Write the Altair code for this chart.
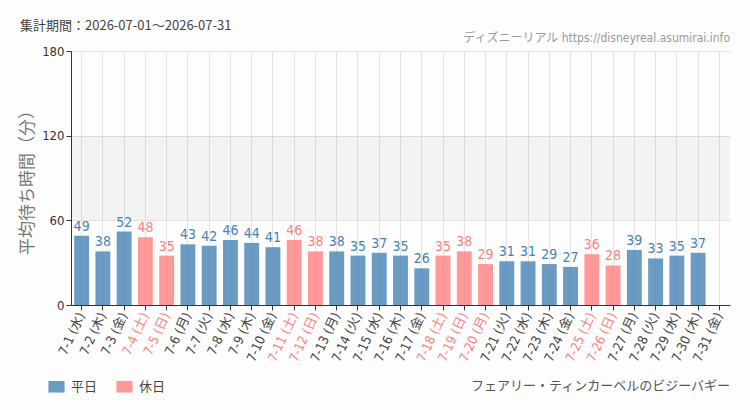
import altair as alt
import pandas as pd
import json

days = [f"7-{d}" for d in range(1, 32)]
weekdays = ["水","木","金","土","日","月","火","水","木","金","土","日","月","火","水","木","金","土","日","月","火","水","木","金","土","日","月","火","水","木","金"]
values = [49,38,52,48,35,43,42,46,44,41,46,38,38,35,37,35,26,35,38,29,31,31,29,27,36,28,39,33,35,37,None]
holiday = [0,0,0,1,1,0,0,0,0,0,1,1,0,0,0,0,0,1,1,1,0,0,0,0,1,1,0,0,0,0,0]

labels = [f"{d} ({w})" for d, w in zip(days, weekdays)]
kind = ["休日" if h else "平日" for h in holiday]
df = pd.DataFrame({"label": labels, "value": values, "kind": kind})
hol_labels = [l for l, h in zip(labels, holiday) if h]

W, H = 659, 254
NUM_FONT = "DejaVu Sans Condensed, Liberation Sans Narrow, Noto Sans CJK JP, sans-serif"
JP_FONT = "Noto Sans CJK JP, sans-serif"

xenc = alt.X("label:N", sort=labels, title=None,
             scale=alt.Scale(paddingInner=0.3, paddingOuter=0.15),
             axis=alt.Axis(labelAngle=-65, labelFontSize=13, labelFont=NUM_FONT,
                           labelColor={"expr": f"indexof({json.dumps(hol_labels, ensure_ascii=False)}, datum.value) >= 0 ? '#ff7f7f' : '#444444'"},
                           domainColor="#333", tickColor="#333", tickSize=5,
                           grid=True, gridColor="#e3e3e3", labelPadding=3))
yscale = alt.Scale(domain=[0, 180])
yaxis = alt.Axis(values=[0, 60, 120, 180], title="平均待ち時間（分）", titleFontSize=17,
                 titleColor="#777", titleFont=JP_FONT, titleFontWeight="normal", titlePadding=5,
                 labelFontSize=13, labelFont=NUM_FONT, labelColor="#333",
                 domainColor="#333", tickColor="#333", tickSize=5, gridColor="#e3e3e3")

color = alt.Color("kind:N", scale=alt.Scale(domain=["平日", "休日"], range=["#4682b4", "#ff7f7f"]),
                  legend=alt.Legend(title=None, orient="none", direction="horizontal",
                                    legendX=-23, legendY=327, labelFontSize=13, labelFont=JP_FONT,
                                    labelColor="#444", symbolType="M-1,-0.72H1V0.72H-1Z",
                                    symbolSize=260, symbolOpacity=0.8, symbolStrokeWidth=0,
                                    columnPadding=18, labelOffset=6))

base = alt.Chart(df)

band = alt.Chart(pd.DataFrame({"a": [60], "b": [120]})).mark_rect(color="#000000", opacity=0.04).encode(
    x=alt.value(0), x2=alt.value(W),
    y=alt.Y("a:Q", scale=yscale, axis=yaxis), y2="b:Q")

bars = base.mark_bar(opacity=0.8).encode(
    x=xenc,
    y=alt.Y("value:Q", scale=yscale, axis=yaxis),
    color=color)

texts = base.mark_text(dy=-9, fontSize=14, font=NUM_FONT).encode(
    x=alt.X("label:N", sort=labels),
    y=alt.Y("value:Q"),
    text=alt.Text("value:Q"),
    color=alt.Color("kind:N", scale=alt.Scale(domain=["平日", "休日"], range=["#4682b4", "#ff7f7f"]), legend=None))

def note(txt, x, y, align, size, col, font):
    return alt.Chart(pd.DataFrame({"t": [txt]})).mark_text(
        align=align, baseline="alphabetic", fontSize=size, color=col, font=font).encode(
        x=alt.value(x), y=alt.value(y), text="t:N")

n1 = note("集計期間：2026-07-01～2026-07-31", -51, -21, "left", 13, "#444", JP_FONT)
n2 = note("ディズニーリアル https://disneyreal.asumirai.info", W, -9, "right", 12, "#999", NUM_FONT)
n3 = note("フェアリー・ティンカーベルのビジーバギー", W, 339, "right", 13, "#555", NUM_FONT)

chart = alt.layer(band, bars, texts, n1, n2, n3).resolve_scale(color="independent").properties(
    width=W, height=H,
    autosize=alt.AutoSizeParams(type="none"),
    padding={"left": 71, "top": 51, "right": 20, "bottom": 105},
    background="#fcfdfc"
).configure_view(stroke=None)

chart.save("out.html", embed_options={"renderer": "svg", "actions": False})
